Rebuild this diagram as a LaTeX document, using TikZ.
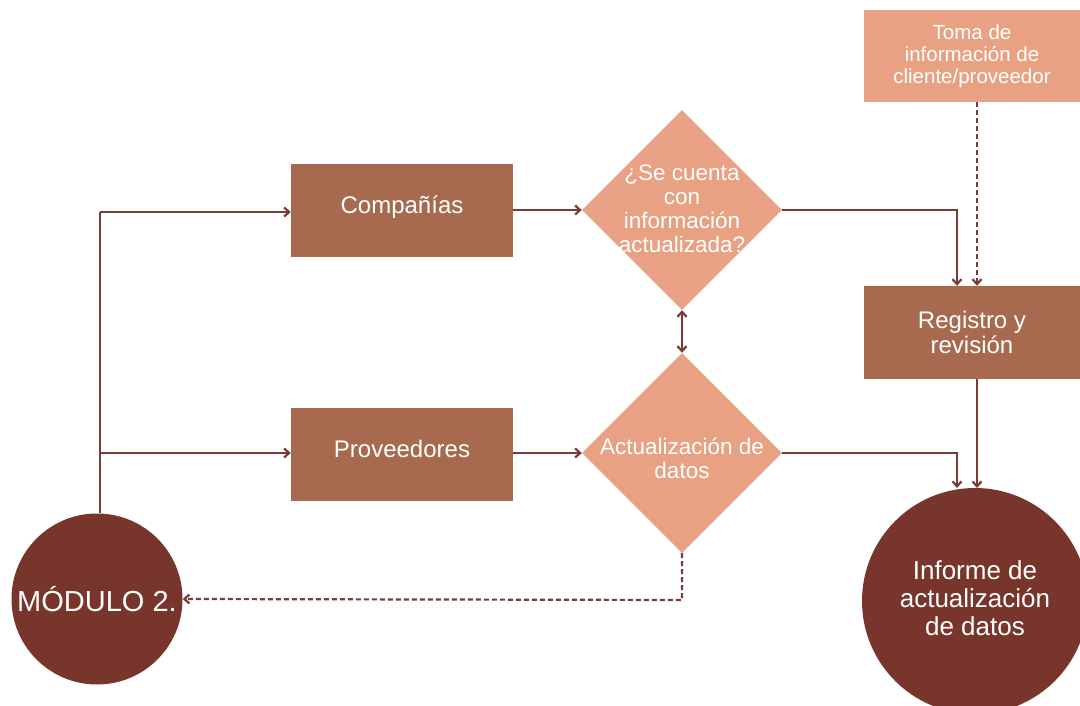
\documentclass[tikz,border=0pt]{standalone}
\usepackage{fontspec}
\setmainfont{Liberation Sans}
\usetikzlibrary{shapes.geometric,arrows.meta}
\definecolor{darkc}{HTML}{78352C}
\definecolor{medc}{HTML}{A86A4E}
\definecolor{lightc}{HTML}{E8A283}
\definecolor{linec}{HTML}{7B3B35}
\begin{document}
\begin{tikzpicture}[x=1pt,y=-1pt,
  rbox/.style={fill=medc,draw=none,minimum width=222pt,minimum height=93pt,inner sep=0pt,text=white,font=\fontsize{24}{25}\selectfont,align=center},
  lbox/.style={fill=lightc,draw=none,minimum width=216pt,minimum height=92pt,inner sep=0pt,text=white,font=\fontsize{20.5}{22}\selectfont,align=center},
  dia/.style={diamond,fill=lightc,draw=none,minimum width=200pt,minimum height=200pt,inner sep=0pt},
  ctext/.style={text=white,align=center,inner sep=0pt},
  diatext/.style={ctext,font=\fontsize{22.5}{24}\selectfont},
  circ/.style={circle,fill=darkc,draw=none,inner sep=0pt,text=white,align=center},
  conn/.style={draw=linec,line width=2.2pt,-{Straight Barb[length=5pt,width=9pt]}},
  dconn/.style={conn,dashed,dash pattern=on 5pt off 3pt}
]
\useasboundingbox (0,0) rectangle (1080,706);
\clip (0,0) rectangle (1080,706);
\node[lbox] (toma) at (972,56) {Toma de\\información de\\cliente/proveedor};
\node[rbox,label={[ctext,font=\fontsize{24}{25}\selectfont,yshift=3pt]center:Compañías}] (comp) at (402,210.5) {};
\node[rbox,label={[ctext,font=\fontsize{24}{25}\selectfont,yshift=5pt]center:Proveedores}] (prov) at (402,454) {};
\node[dia,label={[diatext,yshift=1pt]center:{¿Se cuenta\\con\\información\\actualizada?}}] (d1) at (682,210) {};
\node[dia,label={[diatext,yshift=-5pt]center:{Actualización de\\datos}}] (d2) at (682,453) {};
\node[rbox,minimum width=216pt] (reg) at (972,332.5) {Registro y\\revisión};
\node[circ,minimum size=171pt,font=\fontsize{29}{30}\selectfont] (mod) at (97,599) {MÓDULO 2.};
\node[circ,minimum size=226pt,label={[ctext,font=\fontsize{26}{28}\selectfont,yshift=3pt]center:{Informe de\\actualización\\de datos}}] (inf) at (975,601) {};
\coordinate (lt) at (100,212);
\coordinate (lm) at (100,453);
\coordinate (c1) at (957,210);
\coordinate (c2) at (957,453);
\coordinate (tx) at (977,0);
\coordinate (ie) at (0,488);
\coordinate (dd) at (682,600);
\draw[draw=linec,line width=2.2pt] (lt |- mod.north) -- (lt);
\draw[conn] (lt) -- (lt -| comp.west);
\draw[conn] (lm) -- (lm -| prov.west);
\draw[conn] (d1.west -| comp.east) -- (d1.west);
\draw[conn] (d2.west -| prov.east) -- (d2.west);
\draw[draw=linec,line width=2.2pt,{Straight Barb[length=5pt,width=9pt]}-{Straight Barb[length=5pt,width=9pt]}] (d1.south) -- (d2.north);
\draw[conn] (d1.east) -- (c1) -- (c1 |- reg.north);
\draw[dconn] (tx |- toma.south) -- (tx |- reg.north);
\draw[conn] (d2.east) -- (c2) -- (c2 |- ie);
\draw[conn] (tx |- reg.south) -- (tx |- ie);
\draw[dconn] (d2.south) -- (dd) -- (mod.east);
\end{tikzpicture}
\end{document}
